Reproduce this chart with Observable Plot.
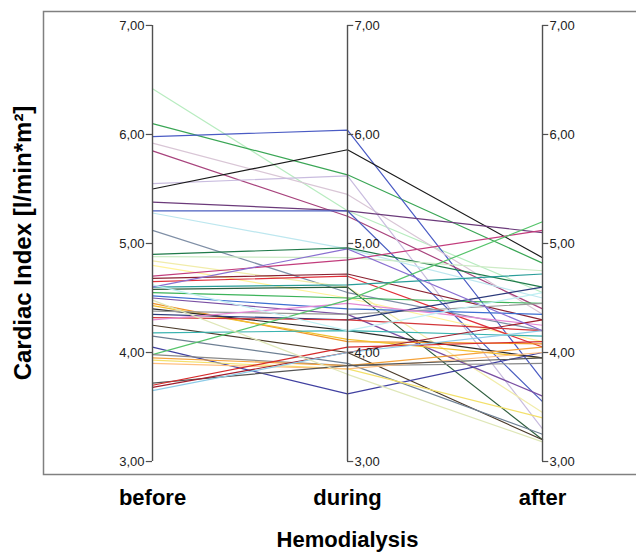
<!DOCTYPE html>
<html><head><meta charset="utf-8">
<script src="https://cdn.jsdelivr.net/npm/d3@7"></script>
<script src="https://cdn.jsdelivr.net/npm/@observablehq/plot@0.6"></script>
<style>body{margin:0;background:#fff} #chart{width:636px;height:552px;overflow:hidden}</style>
</head><body><div id="chart"></div>
<script>
const phases = ["before", "during", "after"];
const yTicks = [3, 4, 5, 6, 7];
const before = [6.42,6.10,5.98,5.92,5.85,5.55,5.50,5.38,5.30,5.28,5.12,4.90,4.88,4.84,4.80,4.70,4.68,4.65,4.60,4.58,4.55,4.52,4.50,4.45,4.43,4.40,4.38,4.35,4.32,4.30,4.25,4.18,4.15,4.05,3.98,3.98,3.95,3.93,3.90,3.72,3.70,3.68,3.65,4.60,4.62,4.48];
const during = [5.30,5.63,6.04,5.45,5.25,5.62,5.86,5.30,5.30,4.95,4.55,4.96,4.87,4.60,4.50,4.85,4.72,4.70,4.62,4.60,4.50,4.40,4.35,4.10,4.12,4.20,4.35,4.30,4.30,4.45,4.00,4.20,3.90,3.62,4.48,3.88,3.88,3.85,3.85,3.88,4.05,4.00,4.00,4.95,4.20,3.80];
const after  = [4.55,4.82,3.75,4.35,4.40,3.30,4.87,5.10,3.55,4.50,4.20,4.60,4.75,3.45,4.10,5.12,4.30,4.05,4.72,3.20,4.45,4.35,3.60,4.08,3.95,3.95,4.45,4.60,4.20,4.25,3.20,4.15,3.25,4.00,5.20,3.90,4.05,3.40,4.00,3.95,4.10,4.30,4.20,4.20,4.55,3.18];
const lineColors = ["#b8ecc0","#3aa655","#4a5bc4","#d9c6d6","#a8437d","#c9bcdf","#1a1a1a","#6b3a7a","#4b5fc0","#bde7ef","#7f8fa6","#1f7a4a","#cdebc6","#f1ecaa","#fff29a","#c23c7c","#8b2232","#e0303a","#2a9d9a","#2f5e3e","#3cb35a","#3d6fd1","#7a4fa3","#f0952a","#f2c12e","#2b2b2b","#9a9a9a","#2b3a7a","#d2363a","#e58ad5","#4a3a2a","#39b3b0","#6d7f93","#4040a0","#55c46a","#888888","#f5a33c","#f3e06a","#ffbf80","#555555","#d62a2a","#a01e2e","#8ccbe8","#8a6fd1","#bff0f3","#dfe7b8"];

const rows = [];
before.forEach((_, i) => {
  [before[i], during[i], after[i]].forEach((v, j) => rows.push({patient: i, phase: j, value: v, color: lineColors[i]}));
});
const tickRows = phases.flatMap((p, j) => yTicks.map(t => ({phase: j, value: t})));
const fmt = v => v.toFixed(2).replace(".", ",");

const plot = Plot.plot({
  width: 636, height: 552,
  marginLeft: 43, marginRight: -8, marginTop: 11, marginBottom: 78,
  x: {type: "linear", domain: [-0.559, 2.523], axis: null},
  y: {domain: [2.881, 7.128], axis: null},
  color: {type: "identity"},
  style: {fontFamily: "'Liberation Sans', Arial, sans-serif", background: "#fff"},
  marks: [
    Plot.frame({stroke: "#808080", strokeWidth: 1.5}),
    Plot.line(rows, {x: "phase", y: "value", z: "patient", stroke: "color", strokeWidth: 1.2}),
    Plot.ruleX([0, 1, 2], {y1: 3, y2: 7, stroke: "#505050", strokeWidth: 1.4}),
    Plot.ruleY(tickRows, {y: "value", x1: "phase", x2: d => d.phase === 0 ? d.phase - 0.032 : d.phase + 0.032, stroke: "#505050", strokeWidth: 1.2}),
    Plot.text(tickRows.filter(d => d.phase === 0), {x: "phase", y: "value", text: d => fmt(d.value), textAnchor: "end", dx: -8, fontSize: 13, fill: "#222"}),
    Plot.text(tickRows.filter(d => d.phase > 0), {x: "phase", y: "value", text: d => fmt(d.value), textAnchor: "start", dx: 7, fontSize: 13, fill: "#222"}),
    Plot.axisX({ticks: [0, 1, 2], tickFormat: i => phases[i], tickSize: 0, tickPadding: 15, fontSize: 22, fontWeight: "bold", label: null, fill: "#000"}),
    Plot.text(["Hemodialysis"], {x: 1, frameAnchor: "bottom", lineAnchor: "top", dy: 57, fontSize: 22, fontWeight: "bold", fill: "#000"}),
    Plot.text(["Cardiac Index [l/min*m²]"], {frameAnchor: "left", textAnchor: "middle", rotate: -90, dx: -20, dy: 0, fontSize: 24, fontWeight: "bold", fill: "#000"})
  ]
});
document.getElementById("chart").append(plot);
</script>
</body></html>
